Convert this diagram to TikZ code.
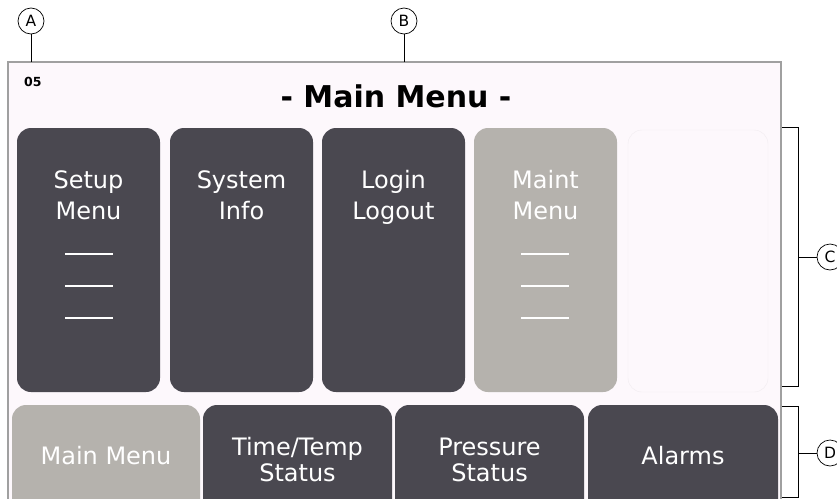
\documentclass[tikz,border=0pt]{standalone}
\usepackage{fontspec}
\setmainfont{DejaVu Sans}
\definecolor{btndark}{HTML}{4A4850}
\definecolor{btnlight}{HTML}{B5B2AD}
\definecolor{screenbg}{HTML}{FDF8FC}
\definecolor{framegray}{HTML}{A0A0A0}
\definecolor{ghostline}{HTML}{F1ECF0}

\begin{document}
\begin{tikzpicture}[x=1pt,y=-1pt,
  btn/.style={rounded corners=14pt},
  lbl/.style={anchor=base,text=white,inner sep=0pt,font=\fontsize{24}{24}\selectfont},
  callout/.style={circle,draw,line width=0.7pt,minimum size=26pt,inner sep=0pt,font=\fontsize{15.5}{15.5}\selectfont}]
\useasboundingbox (0,0) rectangle (837,498);
\clip (0,0) rectangle (837,498);

% screen
\filldraw[fill=screenbg,draw=framegray,line width=1.5pt] (8,62) rectangle (781,540);
\node[anchor=base west,inner sep=0pt,font=\fontsize{12.5}{12.5}\selectfont\bfseries] (code) at (24,86) {05};
\node[anchor=base,inner sep=0pt,font=\fontsize{30}{30}\selectfont\bfseries] (title) at (396,107) {- Main Menu -};

% top row
\fill[btndark,btn] (17,128) rectangle (160,392);
\fill[btndark,btn] (170,128) rectangle (313,392);
\fill[btndark,btn] (322,128) rectangle (465,392);
\fill[btnlight,btn] (474,128) rectangle (617,392);
\draw[ghostline,btn] (628,130) rectangle (768,392);

\node[lbl] (setupA) at (88.5,188) {Setup};
\node[lbl] (setupB) at (88.5,219) {Menu};
\node[lbl] (sysA) at (241.5,188) {System};
\node[lbl] (sysB) at (241.5,219) {Info};
\node[lbl] (loginA) at (393.5,188) {Login};
\node[lbl] (loginB) at (393.5,219) {Logout};
\node[lbl] (maintA) at (545.5,188) {Maint};
\node[lbl] (maintB) at (545.5,219) {Menu};
\foreach \y in {254,286,318} {
  \draw[white,line width=1.2pt] (65,\y) -- (113,\y);
  \draw[white,line width=1.2pt] (521,\y) -- (569,\y);
}

% bottom row
\fill[btnlight,btn] (12,405) rectangle (200,540);
\fill[btndark,btn] (203,405) rectangle (392,540);
\fill[btndark,btn] (395,405) rectangle (584,540);
\fill[btndark,btn] (588,405) rectangle (778,540);

\node[lbl] (mainM) at (106,464) {Main Menu};
\node[lbl] (timeA) at (297.5,455) {Time/Temp};
\node[lbl] (timeB) at (297.5,481) {Status};
\node[lbl] (presA) at (489.5,455) {Pressure};
\node[lbl] (presB) at (489.5,481) {Status};
\node[lbl] (alarm) at (683,464) {Alarms};

% callouts
\node[callout] (A) at (31,21) {A};
\node[callout] (B) at (404,21) {B};
\node[callout] (C) at (830,257) {C};
\node[callout] (D) at (830,453) {D};
\coordinate (aEnd) at (31,62);
\coordinate (bEnd) at (404,62);
\coordinate (cMid) at (798,257);
\coordinate (dMid) at (798,453);
\draw[line width=0.7pt] (A) -- (aEnd);
\draw[line width=0.7pt] (B) -- (bEnd);
\draw[line width=0.7pt] (782,127) -- (798,127) -- (798,386) -- (782,386);
\draw[line width=0.7pt] (782,406) -- (798,406) -- (798,497) -- (782,497);
\draw[line width=0.7pt] (cMid) -- (C);
\draw[line width=0.7pt] (dMid) -- (D);
\end{tikzpicture}
\end{document}
